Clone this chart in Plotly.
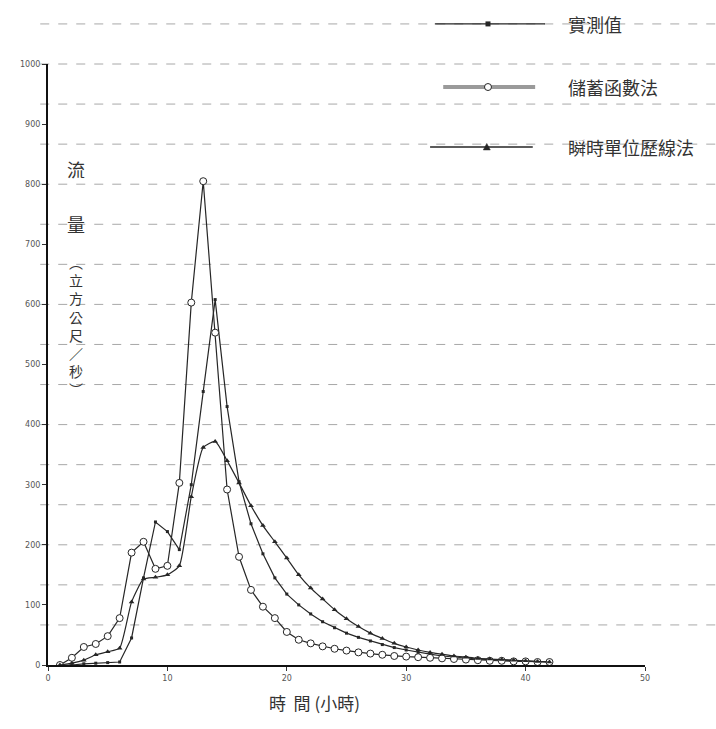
import plotly.graph_objects as go

# Hourly discharge (m^3/s) for one flood event
hours = list(range(1, 43))
observed_q = [0, 0, 2, 3, 4, 5, 45, 145, 238, 222, 192, 300, 455, 608, 430, 305,
              235, 185, 145, 118, 100, 85, 72, 62, 53, 46, 40, 34, 29, 25, 21, 18,
              15, 13, 11, 10, 9, 8, 7, 6, 5, 5]
storage_q = [0, 12, 30, 35, 48, 78, 187, 205, 160, 165, 303, 603, 805, 553, 292, 180,
             125, 97, 78, 55, 42, 36, 31, 27, 24, 21, 19, 17, 15, 14, 13, 12,
             11, 10, 9, 8, 7, 7, 6, 6, 5, 5]
iuh_q = [0, 3, 8, 17, 22, 28, 105, 143, 146, 150, 165, 280, 362, 372, 340, 303,
         265, 232, 205, 178, 150, 128, 110, 92, 77, 64, 53, 44, 36, 30, 25, 21,
         18, 15, 13, 11, 10, 9, 8, 7, 6, 5]

series_names = ["實測值", "儲蓄函數法", "瞬時單位歷線法"]
x_ticks = [0, 10, 20, 30, 40, 50]
y_ticks = [0, 100, 200, 300, 400, 500, 600, 700, 800, 900, 1000]

INK = "#262626"
CJK = "Noto Sans CJK TC"

fig = go.Figure()

fig.add_trace(go.Scatter(
    x=hours, y=observed_q, mode="lines+markers", name=series_names[0],
    line=dict(color=INK, width=1.2),
    marker=dict(symbol="square", size=3, color=INK),
))
fig.add_trace(go.Scatter(
    x=hours, y=storage_q, mode="lines+markers", name=series_names[1],
    line=dict(color=INK, width=1.2),
    marker=dict(symbol="circle", size=7, color="white", line=dict(color=INK, width=1)),
))
fig.add_trace(go.Scatter(
    x=hours, y=iuh_q, mode="lines+markers", name=series_names[2],
    line=dict(color=INK, width=1.2, shape="spline", smoothing=0.5),
    marker=dict(symbol="triangle-up", size=5, color=INK),
))

# Key rows: sample line, symbol at its middle, label to the right (paper coords)
key_rows = [
    dict(x0=0.648, xm=0.737, x1=0.8325, y=1.0667, color=INK, width=1.4),
    dict(x0=0.662, xm=0.737, x1=0.816, y=0.9617, color="#9a9a9a", width=4),
    dict(x0=0.640, xm=0.735, x1=0.812, y=0.862, color=INK, width=1.4),
]
for row, label in zip(key_rows, series_names):
    fig.add_shape(
        type="line", xref="paper", yref="paper",
        x0=row["x0"], x1=row["x1"], y0=row["y"], y1=row["y"],
        line=dict(color=row["color"], width=row["width"]), layer="above",
    )
    fig.add_annotation(
        x=0.868, y=row["y"], xref="paper", yref="paper", text=label,
        showarrow=False, xanchor="left", yanchor="middle",
        font=dict(family=CJK, size=18, color="#333"),
    )

# Key symbols, sized in pixels
sq, circ, tri = key_rows
fig.add_shape(
    type="rect", xref="paper", yref="paper",
    xsizemode="pixel", ysizemode="pixel", xanchor=sq["xm"], yanchor=sq["y"],
    x0=-2.5, x1=2.5, y0=-2.5, y1=2.5,
    fillcolor=INK, line=dict(width=0), layer="above",
)
fig.add_shape(
    type="circle", xref="paper", yref="paper",
    xsizemode="pixel", ysizemode="pixel", xanchor=circ["xm"], yanchor=circ["y"],
    x0=-3.5, x1=3.5, y0=-3.5, y1=3.5,
    fillcolor="white", line=dict(color=INK, width=1), layer="above",
)
fig.add_shape(
    type="path", xref="paper", yref="paper",
    xsizemode="pixel", ysizemode="pixel", xanchor=tri["xm"], yanchor=tri["y"],
    path="M -3.5 -3 L 3.5 -3 L 0 3.5 Z",
    fillcolor=INK, line=dict(color=INK, width=0.5), layer="above",
)

# Ruled background lines of the sheet
for k in range(1, 17):
    fig.add_shape(
        type="line", xref="paper", yref="paper",
        x0=-0.013, x1=1.12, y0=k / 15, y1=k / 15,
        line=dict(color="#a8a8a8", width=1, dash="dash"), layer="below",
    )

# Axis titles
fig.add_annotation(
    x=0.447, y=-0.038, xref="paper", yref="paper", text="時  間 (小時)",
    showarrow=False, xanchor="center", yanchor="top",
    font=dict(family=CJK, size=17, color="#333"),
)
fig.add_annotation(
    x=0.047, y=0.825, xref="paper", yref="paper", text="流",
    showarrow=False, xanchor="center", yanchor="middle",
    font=dict(family=CJK, size=18, color="#333"),
)
fig.add_annotation(
    x=0.047, y=0.733, xref="paper", yref="paper", text="量",
    showarrow=False, xanchor="center", yanchor="middle",
    font=dict(family=CJK, size=18, color="#333"),
)
fig.add_annotation(
    x=0.047, y=0.69, xref="paper", yref="paper",
    text="︵<br>立<br>方<br>公<br>尺<br>／<br>秒<br>︶",
    showarrow=False, xanchor="center", yanchor="top",
    font=dict(family=CJK, size=14, color="#333"),
)

fig.update_layout(
    width=716, height=729,
    margin=dict(l=48, r=71, t=64, b=64),
    paper_bgcolor="white", plot_bgcolor="white",
    showlegend=False,
    xaxis=dict(
        range=[0, 50], tickvals=x_ticks, ticktext=[str(v) for v in x_ticks],
        showgrid=False, zeroline=False, showline=True, linecolor="#111", linewidth=2,
        ticks="outside", ticklen=4, tickcolor="#333",
        tickfont=dict(family="DejaVu Sans", size=8, color="#555"),
    ),
    yaxis=dict(
        range=[0, 1000], tickvals=y_ticks, ticktext=[str(v) for v in y_ticks],
        showgrid=False, zeroline=False, showline=True, linecolor="#111", linewidth=2,
        ticks="outside", ticklen=4, tickcolor="#333",
        tickfont=dict(family="DejaVu Sans", size=8, color="#555"),
    ),
)

fig.write_html("out.html")
